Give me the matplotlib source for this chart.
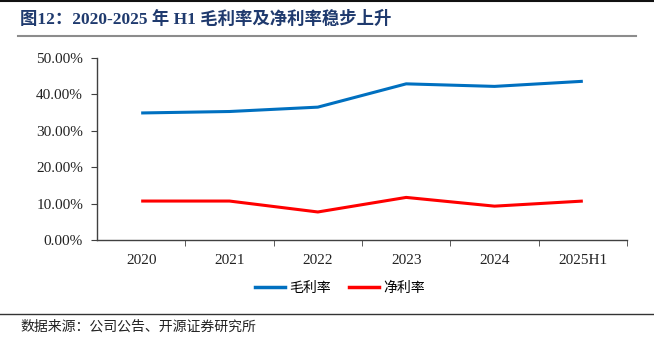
import matplotlib
matplotlib.use("Agg")
import matplotlib.pyplot as plt
from matplotlib.lines import Line2D
from matplotlib.ticker import FuncFormatter, FixedLocator

categories = ["2020", "2021", "2022", "2023", "2024", "2025H1"]
gross_margin = [34.9, 35.3, 36.5, 42.9, 42.2, 43.6]
net_margin = [10.7, 10.7, 7.7, 11.7, 9.3, 10.7]
yticks = [0, 10, 20, 30, 40, 50]
series_names = ["毛利率", "净利率"]
title = "图12：2020-2025 年 H1 毛利率及净利率稳步上升"
source = "数据来源：公司公告、开源证券研究所"

W, H = 654, 353
fig = plt.figure(figsize=(W / 100, H / 100), dpi=100)
serif = ["Liberation Serif", "Noto Sans CJK SC"]
cjk = ["Noto Sans CJK SC", "DejaVu Sans"]

ax = fig.add_axes([97 / W, 1 - 240 / H, (627 - 97) / W, (240 - 58) / H])
x = list(range(len(categories)))
ax.plot(x, gross_margin, color="#0070C0", lw=2.2, solid_capstyle="butt")
ax.plot(x, net_margin, color="#FF0000", lw=2.2, solid_capstyle="butt")
ax.set_xlim(-0.5, len(categories) - 0.5)
ax.set_ylim(0, 50)
ax.set_yticks(yticks)
ax.yaxis.set_major_formatter(FuncFormatter(lambda v, p: f"{v:.2f}%"))
ax.set_xticks(x)
ax.set_xticklabels(categories)
ax.xaxis.set_minor_locator(FixedLocator([i + 0.5 for i in range(len(categories))]))
ax.tick_params(axis="x", which="major", length=0, pad=10)
ax.tick_params(axis="x", which="minor", length=4, direction="out", color="#404040")
ax.tick_params(axis="y", length=4, direction="out", color="#404040", pad=6)
for lab in ax.get_xticklabels() + ax.get_yticklabels():
    lab.set_fontfamily(serif)
    lab.set_fontsize(11)
    lab.set_color("#222222")
for s in ["top", "right"]:
    ax.spines[s].set_visible(False)
for s in ["left", "bottom"]:
    ax.spines[s].set_color("#404040")
    ax.spines[s].set_linewidth(1.0)

handles = [Line2D([], [], color="#0070C0", lw=2.5), Line2D([], [], color="#FF0000", lw=2.5)]
fig.legend(handles, series_names, loc="center", bbox_to_anchor=(340 / W, 1 - 288 / H),
           ncol=2, frameon=False, prop={"family": cjk, "size": 10},
           handlelength=2.15, columnspacing=1.3, handletextpad=0.3)

fig.text(20 / W, 1 - 19 / H, title, fontsize=12.5, fontweight="bold", color="#1F3A6E",
         family=serif, va="center", ha="left")
fig.add_artist(Line2D([0, 1], [1 - 1 / H, 1 - 1 / H], color="#111111", lw=1.5, transform=fig.transFigure))
fig.add_artist(Line2D([18 / W, 636 / W], [1 - 36 / H, 1 - 36 / H], color="#8C8C8C", lw=1.5, transform=fig.transFigure))
fig.add_artist(Line2D([0, 1], [1 - 314 / H, 1 - 314 / H], color="#333333", lw=1.0, transform=fig.transFigure))
fig.text(20 / W, 1 - 327 / H, source, fontsize=10, color="#222222", family=cjk, va="center", ha="left")

fig.savefig("out.png", dpi=100)
